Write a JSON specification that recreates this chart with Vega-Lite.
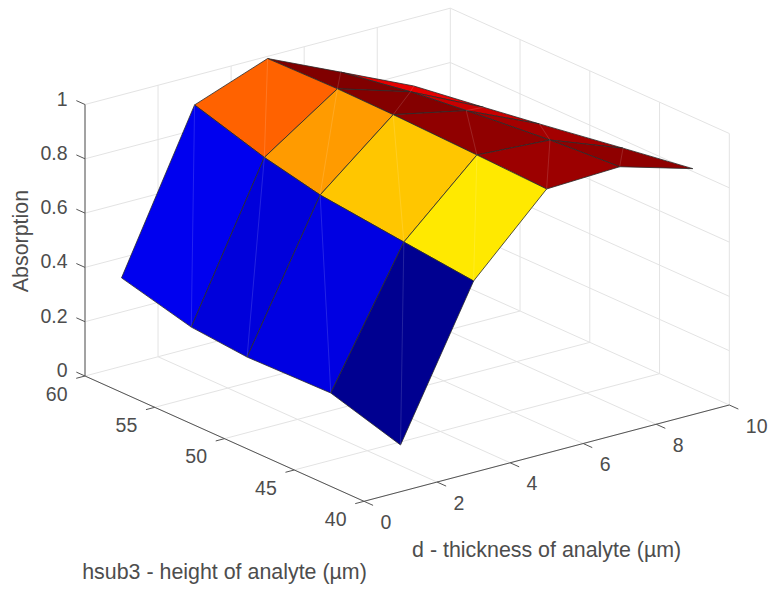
{
"$schema":"https://vega.github.io/schema/vega-lite/v6.json",
"width":769,"height":590,
"autosize":{"type":"fit","contains":"padding"},
"padding":0,
"background":"white",
"view":{"stroke":null},
"datasets":{
"surface":[
{"p":1,"i":0,"d":7,"h":55,"a":0.914,"c":0.914},{"p":1,"i":1,"d":9,"h":55,"a":0.786,"c":0.914},{"p":1,"i":2,"d":9,"h":60,"a":0.749,"c":0.914},{"p":1,"i":3,"d":7,"h":60,"a":0.871,"c":0.914},{"p":1,"i":4,"d":7,"h":55,"a":0.914,"c":0.914},
{"p":2,"i":0,"d":7,"h":51,"a":0.937,"c":0.937},{"p":2,"i":1,"d":9,"h":51,"a":0.817,"c":0.937},{"p":2,"i":2,"d":9,"h":55,"a":0.786,"c":0.937},{"p":2,"i":3,"d":7,"h":55,"a":0.914,"c":0.937},{"p":2,"i":4,"d":7,"h":51,"a":0.937,"c":0.937},
{"p":3,"i":0,"d":7,"h":45,"a":0.967,"c":0.967},{"p":3,"i":1,"d":9,"h":45,"a":0.866,"c":0.967},{"p":3,"i":2,"d":9,"h":51,"a":0.817,"c":0.967},{"p":3,"i":3,"d":7,"h":51,"a":0.937,"c":0.967},{"p":3,"i":4,"d":7,"h":45,"a":0.967,"c":0.967},
{"p":4,"i":0,"d":7,"h":40,"a":0.984,"c":0.984},{"p":4,"i":1,"d":9,"h":40,"a":0.906,"c":0.984},{"p":4,"i":2,"d":9,"h":45,"a":0.866,"c":0.984},{"p":4,"i":3,"d":7,"h":45,"a":0.967,"c":0.984},{"p":4,"i":4,"d":7,"h":40,"a":0.984,"c":0.984},
{"p":5,"i":0,"d":5,"h":55,"a":0.996,"c":0.996},{"p":5,"i":1,"d":7,"h":55,"a":0.914,"c":0.996},{"p":5,"i":2,"d":7,"h":60,"a":0.871,"c":0.996},{"p":5,"i":3,"d":5,"h":60,"a":0.992,"c":0.996},{"p":5,"i":4,"d":5,"h":55,"a":0.996,"c":0.996},
{"p":6,"i":0,"d":5,"h":51,"a":0.993,"c":0.993},{"p":6,"i":1,"d":7,"h":51,"a":0.937,"c":0.993},{"p":6,"i":2,"d":7,"h":55,"a":0.914,"c":0.993},{"p":6,"i":3,"d":5,"h":55,"a":0.996,"c":0.993},{"p":6,"i":4,"d":5,"h":51,"a":0.993,"c":0.993},
{"p":7,"i":0,"d":5,"h":45,"a":0.983,"c":0.983},{"p":7,"i":1,"d":7,"h":45,"a":0.967,"c":0.983},{"p":7,"i":2,"d":7,"h":51,"a":0.937,"c":0.983},{"p":7,"i":3,"d":5,"h":51,"a":0.993,"c":0.983},{"p":7,"i":4,"d":5,"h":45,"a":0.983,"c":0.983},
{"p":8,"i":0,"d":5,"h":40,"a":0.973,"c":0.973},{"p":8,"i":1,"d":7,"h":40,"a":0.984,"c":0.973},{"p":8,"i":2,"d":7,"h":45,"a":0.967,"c":0.973},{"p":8,"i":3,"d":5,"h":45,"a":0.983,"c":0.973},{"p":8,"i":4,"d":5,"h":40,"a":0.973,"c":0.973},
{"p":9,"i":0,"d":3,"h":55,"a":0.814,"c":0.814},{"p":9,"i":1,"d":5,"h":55,"a":0.996,"c":0.814},{"p":9,"i":2,"d":5,"h":60,"a":0.992,"c":0.814},{"p":9,"i":3,"d":3,"h":60,"a":0.892,"c":0.814},{"p":9,"i":4,"d":3,"h":55,"a":0.814,"c":0.814},
{"p":10,"i":0,"d":3,"h":51,"a":0.768,"c":0.768},{"p":10,"i":1,"d":5,"h":51,"a":0.993,"c":0.768},{"p":10,"i":2,"d":5,"h":55,"a":0.996,"c":0.768},{"p":10,"i":3,"d":3,"h":55,"a":0.814,"c":0.768},{"p":10,"i":4,"d":3,"h":51,"a":0.768,"c":0.768},
{"p":11,"i":0,"d":3,"h":45,"a":0.733,"c":0.733},{"p":11,"i":1,"d":5,"h":45,"a":0.983,"c":0.733},{"p":11,"i":2,"d":5,"h":51,"a":0.993,"c":0.733},{"p":11,"i":3,"d":3,"h":51,"a":0.768,"c":0.733},{"p":11,"i":4,"d":3,"h":45,"a":0.733,"c":0.733},
{"p":12,"i":0,"d":3,"h":40,"a":0.705,"c":0.705},{"p":12,"i":1,"d":5,"h":40,"a":0.973,"c":0.705},{"p":12,"i":2,"d":5,"h":45,"a":0.983,"c":0.705},{"p":12,"i":3,"d":3,"h":45,"a":0.733,"c":0.705},{"p":12,"i":4,"d":3,"h":40,"a":0.705,"c":0.705},
{"p":13,"i":0,"d":1,"h":55,"a":0.26,"c":0.26},{"p":13,"i":1,"d":3,"h":55,"a":0.814,"c":0.26},{"p":13,"i":2,"d":3,"h":60,"a":0.892,"c":0.26},{"p":13,"i":3,"d":1,"h":60,"a":0.326,"c":0.26},{"p":13,"i":4,"d":1,"h":55,"a":0.26,"c":0.26},
{"p":14,"i":0,"d":1,"h":51,"a":0.242,"c":0.242},{"p":14,"i":1,"d":3,"h":51,"a":0.768,"c":0.242},{"p":14,"i":2,"d":3,"h":55,"a":0.814,"c":0.242},{"p":14,"i":3,"d":1,"h":55,"a":0.26,"c":0.242},{"p":14,"i":4,"d":1,"h":51,"a":0.242,"c":0.242},
{"p":15,"i":0,"d":1,"h":45,"a":0.248,"c":0.248},{"p":15,"i":1,"d":3,"h":45,"a":0.733,"c":0.248},{"p":15,"i":2,"d":3,"h":51,"a":0.768,"c":0.248},{"p":15,"i":3,"d":1,"h":51,"a":0.242,"c":0.248},{"p":15,"i":4,"d":1,"h":45,"a":0.248,"c":0.248},
{"p":16,"i":0,"d":1,"h":40,"a":0.172,"c":0.172},{"p":16,"i":1,"d":3,"h":40,"a":0.705,"c":0.172},{"p":16,"i":2,"d":3,"h":45,"a":0.733,"c":0.172},{"p":16,"i":3,"d":1,"h":45,"a":0.248,"c":0.172},{"p":16,"i":4,"d":1,"h":40,"a":0.172,"c":0.172}
],
"grid":[
{"d":0,"h":40,"a":0,"d2":0,"h2":60,"a2":0},{"d":2,"h":40,"a":0,"d2":2,"h2":60,"a2":0},{"d":4,"h":40,"a":0,"d2":4,"h2":60,"a2":0},{"d":6,"h":40,"a":0,"d2":6,"h2":60,"a2":0},{"d":8,"h":40,"a":0,"d2":8,"h2":60,"a2":0},{"d":10,"h":40,"a":0,"d2":10,"h2":60,"a2":0},
{"d":0,"h":40,"a":0,"d2":10,"h2":40,"a2":0},{"d":0,"h":45,"a":0,"d2":10,"h2":45,"a2":0},{"d":0,"h":50,"a":0,"d2":10,"h2":50,"a2":0},{"d":0,"h":55,"a":0,"d2":10,"h2":55,"a2":0},{"d":0,"h":60,"a":0,"d2":10,"h2":60,"a2":0},
{"d":0,"h":60,"a":0,"d2":0,"h2":60,"a2":1},{"d":2,"h":60,"a":0,"d2":2,"h2":60,"a2":1},{"d":4,"h":60,"a":0,"d2":4,"h2":60,"a2":1},{"d":6,"h":60,"a":0,"d2":6,"h2":60,"a2":1},{"d":8,"h":60,"a":0,"d2":8,"h2":60,"a2":1},{"d":10,"h":60,"a":0,"d2":10,"h2":60,"a2":1},
{"d":0,"h":60,"a":0.2,"d2":10,"h2":60,"a2":0.2},{"d":0,"h":60,"a":0.4,"d2":10,"h2":60,"a2":0.4},{"d":0,"h":60,"a":0.6,"d2":10,"h2":60,"a2":0.6},{"d":0,"h":60,"a":0.8,"d2":10,"h2":60,"a2":0.8},{"d":0,"h":60,"a":1,"d2":10,"h2":60,"a2":1},
{"d":10,"h":40,"a":0,"d2":10,"h2":40,"a2":1},{"d":10,"h":45,"a":0,"d2":10,"h2":45,"a2":1},{"d":10,"h":50,"a":0,"d2":10,"h2":50,"a2":1},{"d":10,"h":55,"a":0,"d2":10,"h2":55,"a2":1},
{"d":10,"h":40,"a":0.2,"d2":10,"h2":60,"a2":0.2},{"d":10,"h":40,"a":0.4,"d2":10,"h2":60,"a2":0.4},{"d":10,"h":40,"a":0.6,"d2":10,"h2":60,"a2":0.6},{"d":10,"h":40,"a":0.8,"d2":10,"h2":60,"a2":0.8},{"d":10,"h":40,"a":1,"d2":10,"h2":60,"a2":1}
],
"axes":[
{"d":0,"h":60,"a":0,"d2":0,"h2":60,"a2":1},{"d":0,"h":60,"a":0,"d2":0,"h2":40,"a2":0},{"d":0,"h":40,"a":0,"d2":10,"h2":40,"a2":0},
{"d":0,"h":60,"a":0,"d2":0,"h2":60.62,"a2":0},{"d":0,"h":60,"a":0.2,"d2":0,"h2":60.62,"a2":0.2},{"d":0,"h":60,"a":0.4,"d2":0,"h2":60.62,"a2":0.4},{"d":0,"h":60,"a":0.6,"d2":0,"h2":60.62,"a2":0.6},{"d":0,"h":60,"a":0.8,"d2":0,"h2":60.62,"a2":0.8},{"d":0,"h":60,"a":1,"d2":0,"h2":60.62,"a2":1},
{"d":0,"h":60,"a":0,"d2":-0.24,"h2":60,"a2":0},{"d":0,"h":55,"a":0,"d2":-0.24,"h2":55,"a2":0},{"d":0,"h":50,"a":0,"d2":-0.24,"h2":50,"a2":0},{"d":0,"h":45,"a":0,"d2":-0.24,"h2":45,"a2":0},{"d":0,"h":40,"a":0,"d2":-0.24,"h2":40,"a2":0},
{"d":0,"h":40,"a":0,"d2":0,"h2":39.35,"a2":0},{"d":2,"h":40,"a":0,"d2":2,"h2":39.35,"a2":0},{"d":4,"h":40,"a":0,"d2":4,"h2":39.35,"a2":0},{"d":6,"h":40,"a":0,"d2":6,"h2":39.35,"a2":0},{"d":8,"h":40,"a":0,"d2":8,"h2":39.35,"a2":0},{"d":10,"h":40,"a":0,"d2":10,"h2":39.35,"a2":0}
],
"alabels":[{"d":0,"h":60,"a":0,"t":"0"},{"d":0,"h":60,"a":0.2,"t":"0.2"},{"d":0,"h":60,"a":0.4,"t":"0.4"},{"d":0,"h":60,"a":0.6,"t":"0.6"},{"d":0,"h":60,"a":0.8,"t":"0.8"},{"d":0,"h":60,"a":1,"t":"1"}],
"hlabels":[{"d":0,"h":60,"a":0,"t":"60"},{"d":0,"h":55,"a":0,"t":"55"},{"d":0,"h":50,"a":0,"t":"50"},{"d":0,"h":45,"a":0,"t":"45"},{"d":0,"h":40,"a":0,"t":"40"}],
"dlabels":[{"d":0,"h":40,"a":0,"t":"0"},{"d":2,"h":40,"a":0,"t":"2"},{"d":4,"h":40,"a":0,"t":"4"},{"d":6,"h":40,"a":0,"t":"6"},{"d":8,"h":40,"a":0,"t":"8"},{"d":10,"h":40,"a":0,"t":"10"}],
"titles":[{"d":5,"h":40,"a":-0.36,"t":"d - thickness of analyte (µm)"},{"d":0,"h":50,"a":-0.495,"t":"hsub3 - height of analyte (µm)"}],
"ztitle":[{"d":-1.72,"h":60,"a":0.558,"t":"Absorption"}]
},
"layer":[
{"data":{"name":"grid"},
"transform":[
{"calculate":"85+36.53*datum.d+13.95*(60-datum.h)","as":"sx"},{"calculate":"376-9.63*datum.d+6.265*(60-datum.h)-271.5*datum.a","as":"sy"},
{"calculate":"85+36.53*datum.d2+13.95*(60-datum.h2)","as":"sx2"},{"calculate":"376-9.63*datum.d2+6.265*(60-datum.h2)-271.5*datum.a2","as":"sy2"}],
"mark":{"type":"rule","color":"#e3e3e3","strokeWidth":1},
"encoding":{
"x":{"field":"sx","type":"quantitative","scale":{"domain":[0,769],"nice":false,"zero":false},"axis":null},
"y":{"field":"sy","type":"quantitative","scale":{"domain":[590,0],"nice":false,"zero":false},"axis":null},
"x2":{"field":"sx2"},"y2":{"field":"sy2"}}},
{"data":{"name":"axes"},
"transform":[
{"calculate":"85+36.53*datum.d+13.95*(60-datum.h)","as":"sx"},{"calculate":"376-9.63*datum.d+6.265*(60-datum.h)-271.5*datum.a","as":"sy"},
{"calculate":"85+36.53*datum.d2+13.95*(60-datum.h2)","as":"sx2"},{"calculate":"376-9.63*datum.d2+6.265*(60-datum.h2)-271.5*datum.a2","as":"sy2"}],
"mark":{"type":"rule","color":"#555555","strokeWidth":1},
"encoding":{
"x":{"field":"sx","type":"quantitative","scale":{"domain":[0,769],"nice":false,"zero":false},"axis":null},
"y":{"field":"sy","type":"quantitative","scale":{"domain":[590,0],"nice":false,"zero":false},"axis":null},
"x2":{"field":"sx2"},"y2":{"field":"sy2"}}},
{"data":{"name":"surface"},
"transform":[
{"calculate":"85+36.53*datum.d+13.95*(60-datum.h)","as":"sx"},{"calculate":"376-9.63*datum.d+6.265*(60-datum.h)-271.5*datum.a","as":"sy"}],
"mark":{"type":"line","stroke":"#2a2a2a","strokeWidth":0.8,"strokeJoin":"round","interpolate":"linear"},
"encoding":{
"x":{"field":"sx","type":"quantitative","scale":{"domain":[0,769],"nice":false,"zero":false},"axis":null},
"y":{"field":"sy","type":"quantitative","scale":{"domain":[590,0],"nice":false,"zero":false},"axis":null},
"order":{"field":"i","type":"quantitative"},
"detail":{"field":"p","type":"nominal"},
"fill":{"field":"c","type":"quantitative","legend":null,"scale":{"type":"linear","domain":[0.172,0.275,0.481,0.687,0.893,0.996],"range":["#000090","#0000ff","#00ffff","#ffff00","#ff0000","#800000"],"interpolate":"rgb"}}}},
{"data":{"name":"surface"},
"transform":[
{"filter":"datum.i==0||datum.i==2"},
{"calculate":"85+36.53*datum.d+13.95*(60-datum.h)","as":"sx"},{"calculate":"376-9.63*datum.d+6.265*(60-datum.h)-271.5*datum.a","as":"sy"}],
"mark":{"type":"line","stroke":"#ffffff","strokeOpacity":0.2,"strokeWidth":0.7},
"encoding":{
"x":{"field":"sx","type":"quantitative","scale":{"domain":[0,769],"nice":false,"zero":false},"axis":null},
"y":{"field":"sy","type":"quantitative","scale":{"domain":[590,0],"nice":false,"zero":false},"axis":null},
"order":{"field":"i","type":"quantitative"},
"detail":{"field":"p","type":"nominal"}}},
{"data":{"name":"alabels"},
"transform":[
{"calculate":"85+36.53*datum.d+13.95*(60-datum.h)","as":"sx"},{"calculate":"376-9.63*datum.d+6.265*(60-datum.h)-271.5*datum.a","as":"sy"}],
"mark":{"type":"text","font":"Liberation Sans","fontSize":19.5,"color":"#4d4d4d","align":"right","baseline":"middle","dx":-17.5,"dy":-5},
"encoding":{
"x":{"field":"sx","type":"quantitative","scale":{"domain":[0,769],"nice":false,"zero":false},"axis":null},
"y":{"field":"sy","type":"quantitative","scale":{"domain":[590,0],"nice":false,"zero":false},"axis":null},
"text":{"field":"t"}}},
{"data":{"name":"hlabels"},
"transform":[
{"calculate":"85+36.53*datum.d+13.95*(60-datum.h)","as":"sx"},{"calculate":"376-9.63*datum.d+6.265*(60-datum.h)-271.5*datum.a","as":"sy"}],
"mark":{"type":"text","font":"Liberation Sans","fontSize":19.5,"color":"#4d4d4d","align":"right","baseline":"middle","dx":-17.5,"dy":18.7},
"encoding":{
"x":{"field":"sx","type":"quantitative","scale":{"domain":[0,769],"nice":false,"zero":false},"axis":null},
"y":{"field":"sy","type":"quantitative","scale":{"domain":[590,0],"nice":false,"zero":false},"axis":null},
"text":{"field":"t"}}},
{"data":{"name":"dlabels"},
"transform":[
{"calculate":"85+36.53*datum.d+13.95*(60-datum.h)","as":"sx"},{"calculate":"376-9.63*datum.d+6.265*(60-datum.h)-271.5*datum.a","as":"sy"}],
"mark":{"type":"text","font":"Liberation Sans","fontSize":19.5,"color":"#4d4d4d","align":"left","baseline":"middle","dx":16.5,"dy":21.5},
"encoding":{
"x":{"field":"sx","type":"quantitative","scale":{"domain":[0,769],"nice":false,"zero":false},"axis":null},
"y":{"field":"sy","type":"quantitative","scale":{"domain":[590,0],"nice":false,"zero":false},"axis":null},
"text":{"field":"t"}}},
{"data":{"name":"titles"},
"transform":[
{"calculate":"85+36.53*datum.d+13.95*(60-datum.h)","as":"sx"},{"calculate":"376-9.63*datum.d+6.265*(60-datum.h)-271.5*datum.a","as":"sy"}],
"mark":{"type":"text","font":"Liberation Sans","fontSize":21.4,"color":"#4d4d4d","align":"center","baseline":"middle"},
"encoding":{
"x":{"field":"sx","type":"quantitative","scale":{"domain":[0,769],"nice":false,"zero":false},"axis":null},
"y":{"field":"sy","type":"quantitative","scale":{"domain":[590,0],"nice":false,"zero":false},"axis":null},
"text":{"field":"t"}}},
{"data":{"name":"ztitle"},
"transform":[
{"calculate":"85+36.53*datum.d+13.95*(60-datum.h)","as":"sx"},{"calculate":"376-9.63*datum.d+6.265*(60-datum.h)-271.5*datum.a","as":"sy"}],
"mark":{"type":"text","font":"Liberation Sans","fontSize":21.4,"color":"#4d4d4d","align":"center","baseline":"middle","angle":270},
"encoding":{
"x":{"field":"sx","type":"quantitative","scale":{"domain":[0,769],"nice":false,"zero":false},"axis":null},
"y":{"field":"sy","type":"quantitative","scale":{"domain":[590,0],"nice":false,"zero":false},"axis":null},
"text":{"field":"t"}}}
]
}
